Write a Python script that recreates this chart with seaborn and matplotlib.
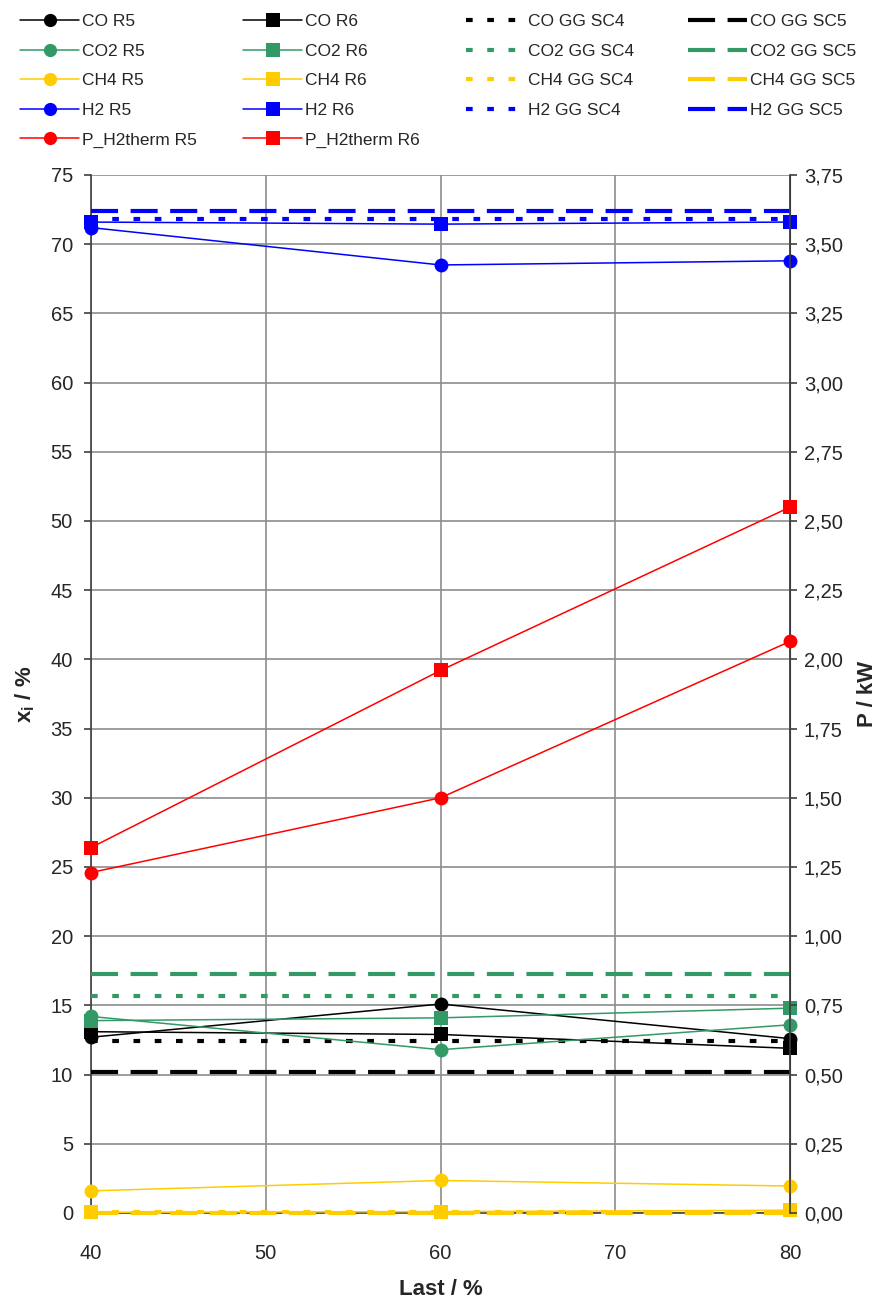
import matplotlib
matplotlib.use("Agg")
import matplotlib.pyplot as plt
from matplotlib.lines import Line2D
from matplotlib.ticker import FuncFormatter, MultipleLocator
import numpy as np
import pandas as pd
import seaborn as sns

# ---- data -------------------------------------------------------------
last = [40, 60, 80]                      # Last / %

co_r5 = [12.7, 15.1, 12.6]
co_r6 = [13.1, 12.9, 11.9]
co2_r5 = [14.2, 11.8, 13.6]
co2_r6 = [13.9, 14.1, 14.8]
ch4_r5 = [1.6, 2.35, 1.95]
ch4_r6 = [0.05, 0.1, 0.2]
h2_r5 = [71.2, 68.5, 68.8]
h2_r6 = [71.6, 71.45, 71.6]

p_r5 = [1.23, 1.50, 2.065]               # P / kW
p_r6 = [1.32, 1.96, 2.55]

# equilibrium (GG) compositions, constant over load
gg_sc4 = {"CO": 12.4, "CO2": 15.65, "CH4": 0.05, "H2": 71.85}
gg_sc5 = {"CO": 10.2, "CO2": 17.3, "CH4": 0.0, "H2": 72.4}

species = ["CO", "CO2", "CH4", "H2"]
colors = {"CO": "#000000", "CO2": "#339966", "CH4": "#FFCC00",
          "H2": "#0000FF", "P": "#FF0000"}

r5 = {"CO": co_r5, "CO2": co2_r5, "CH4": ch4_r5, "H2": h2_r5}
r6 = {"CO": co_r6, "CO2": co2_r6, "CH4": ch4_r6, "H2": h2_r6}

# ---- style ------------------------------------------------------------
sns.set_style("white")
plt.rcParams["font.family"] = ["Liberation Sans", "DejaVu Sans"]
plt.rcParams["mathtext.fontset"] = "custom"
plt.rcParams["mathtext.rm"] = "Liberation Sans"
plt.rcParams["mathtext.bf"] = "Liberation Sans:bold"

W, H = 880, 1301
fig = plt.figure(figsize=(W / 100, H / 100), dpi=100)
ax = fig.add_axes([91 / W, 1 - 1213 / H, (790 - 91) / W, (1213 - 175) / H])
ax2 = ax.twinx()

LW_R = 1.1
MS = 10
DOT = (0, (1.6, 3.5))
DASH = (0, (6.5, 3.0))
LW_GG = 3.0

xmin, xmax = min(last), max(last)

# equilibrium lines
for sp in species:
    for val, ls in ((gg_sc4[sp], DOT), (gg_sc5[sp], DASH)):
        d = pd.DataFrame({"x": [xmin, xmax], "y": [val, val]})
        sns.lineplot(data=d, x="x", y="y", ax=ax, color=colors[sp],
                     linewidth=LW_GG, linestyle=ls, zorder=3, legend=False,
                     clip_on=False)

# measured compositions
for sp in species:
    for vals, mk in ((r5[sp], "o"), (r6[sp], "s")):
        d = pd.DataFrame({"x": last, "y": vals})
        sns.lineplot(data=d, x="x", y="y", ax=ax, color=colors[sp],
                     linewidth=LW_R, marker=mk, markersize=MS,
                     markeredgewidth=0, zorder=4, legend=False, clip_on=False)

# thermal power on the secondary axis
for vals, mk in ((p_r5, "o"), (p_r6, "s")):
    d = pd.DataFrame({"x": last, "y": vals})
    sns.lineplot(data=d, x="x", y="y", ax=ax2, color=colors["P"],
                 linewidth=LW_R, marker=mk, markersize=MS,
                 markeredgewidth=0, zorder=4, legend=False, clip_on=False)

# ---- axes -------------------------------------------------------------
ax.set_xlim(xmin, xmax)
ax.set_ylim(0, 75)
ax2.set_ylim(0, 3.75)
ax.xaxis.set_major_locator(MultipleLocator(10))
ax.yaxis.set_major_locator(MultipleLocator(5))
ax2.yaxis.set_major_locator(MultipleLocator(0.25))
ax2.yaxis.set_major_formatter(FuncFormatter(lambda v, p: f"{v:.2f}".replace(".", ",")))

ax.grid(True, color="#8c8c8c", linewidth=1.2)
ax.set_axisbelow(True)
ax2.grid(False)

for a in (ax, ax2):
    a.spines["top"].set_visible(False)
ax.spines["left"].set_color("#404040")
ax.spines["bottom"].set_color("#404040")
ax2.spines["right"].set_color("#404040")
ax2.spines["left"].set_visible(False)
ax2.spines["bottom"].set_visible(False)
for s in ("left", "bottom"):
    ax.spines[s].set_linewidth(1.2)
ax2.spines["right"].set_linewidth(1.2)

ax.tick_params(axis="both", direction="out", length=5, width=1.2,
               color="#404040", labelsize=14.5)
ax.tick_params(axis="y", pad=8)
ax.tick_params(axis="x", pad=17)
ax2.tick_params(axis="y", direction="out", length=5, width=1.2,
                color="#404040", labelsize=14.5, pad=5)

ax.set_xlabel("Last / %", fontsize=16, fontweight="bold", labelpad=12)
ax.set_ylabel(r"$\mathbf{x_i}$ / %", fontsize=16, fontweight="bold", labelpad=10)
ax2.set_ylabel("P / kW", fontsize=16, fontweight="bold", labelpad=10)

# ---- legend: four columns with equal spacing --------------------------
def mhandle(color, mk):
    return Line2D([], [], color=color, linewidth=1.1, marker=mk,
                  markersize=9.5, markeredgewidth=0)

def lhandle(color, ls):
    return Line2D([], [], color=color, linewidth=LW_GG, linestyle=ls)

cols = [
    ([mhandle(colors[s], "o") for s in species] + [mhandle(colors["P"], "o")],
     [f"{s} R5" for s in species] + ["P_H2therm R5"]),
    ([mhandle(colors[s], "s") for s in species] + [mhandle(colors["P"], "s")],
     [f"{s} R6" for s in species] + ["P_H2therm R6"]),
    ([lhandle(colors[s], DOT) for s in species],
     [f"{s} GG SC4" for s in species]),
    ([lhandle(colors[s], DASH) for s in species],
     [f"{s} GG SC5" for s in species]),
]
col_x = [20, 243, 466, 688]
for (hs, ls), x0 in zip(cols, col_x):
    fig.legend(hs, ls, loc="upper left", bbox_to_anchor=(x0 / W, 1 - 14 / H),
               frameon=False, fontsize=12.5, borderpad=0, borderaxespad=0,
               handlelength=3.4, handletextpad=0.15, labelspacing=0.83)

fig.savefig("out.png", dpi=100)
